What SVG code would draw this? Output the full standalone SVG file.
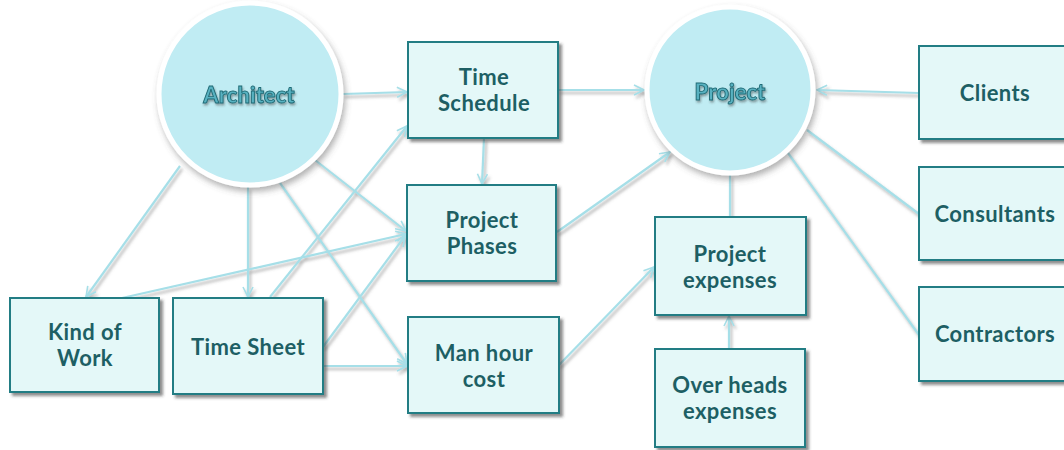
<svg xmlns="http://www.w3.org/2000/svg" width="1064" height="450" viewBox="0 0 1064 450">
<defs>
<filter id="shl" x="-20%" y="-20%" width="140%" height="140%">
<feDropShadow dx="2" dy="3" stdDeviation="1.6" flood-color="#6b6b6b" flood-opacity="0.5"/>
</filter>
<filter id="shb" x="-10%" y="-10%" width="125%" height="125%">
<feDropShadow dx="3" dy="3" stdDeviation="1.8" flood-color="#333" flood-opacity="0.55"/>
</filter>
<filter id="shc" x="-10%" y="-10%" width="125%" height="125%">
<feDropShadow dx="2" dy="4" stdDeviation="3" flood-color="#555" flood-opacity="0.45"/>
</filter>
<filter id="sht" x="-10%" y="-20%" width="120%" height="150%">
<feDropShadow dx="1" dy="2" stdDeviation="1" flood-color="#333" flood-opacity="0.45"/>
</filter>
<marker id="arr" viewBox="0 0 12 12" refX="11" refY="6" markerWidth="12" markerHeight="12" markerUnits="userSpaceOnUse" orient="auto">
<path d="M1,1 L11,6 L1,11" fill="none" stroke="#a6dfe8" stroke-width="1.6"/>
</marker>
</defs>
<style>
.c{fill:none;stroke:#a6dfe8;stroke-width:2.2}
.box{fill:#e4f8f8;stroke:#237d84;stroke-width:2}
.t{font-family:"Lato","Open Sans","DejaVu Sans",sans-serif;font-weight:bold;font-size:22px;letter-spacing:0.4px;fill:#1d5f64;text-anchor:middle}
.circ{fill:#c0ecf3;stroke:#ffffff;stroke-width:5}
.ct{font-family:"Lato","Open Sans","DejaVu Sans",sans-serif;font-weight:900;font-size:22px;fill:#58b2c1;stroke:#1f6a75;stroke-width:0.9;text-anchor:middle}
</style>
<rect width="1064" height="450" fill="#ffffff"/>
<g id="connectors" filter="url(#shl)">
<line class="c" x1="343" y1="94" x2="407" y2="92" marker-end="url(#arr)"/>
<line class="c" x1="270" y1="297" x2="407" y2="126" marker-end="url(#arr)"/>
<line class="c" x1="180" y1="166" x2="86" y2="297" marker-end="url(#arr)"/>
<line class="c" x1="248" y1="187" x2="248" y2="297" marker-end="url(#arr)"/>
<line class="c" x1="122" y1="298" x2="406" y2="234" marker-end="url(#arr)"/>
<line class="c" x1="315" y1="160" x2="406" y2="231" marker-end="url(#arr)"/>
<line class="c" x1="280" y1="183" x2="407" y2="364" marker-end="url(#arr)"/>
<line class="c" x1="323" y1="347" x2="405" y2="236" marker-end="url(#arr)"/>
<line class="c" x1="323" y1="366" x2="407" y2="366" marker-end="url(#arr)"/>
<line class="c" x1="558" y1="90" x2="644" y2="90" marker-end="url(#arr)"/>
<line class="c" x1="484" y1="138" x2="482" y2="184" marker-end="url(#arr)"/>
<line class="c" x1="557" y1="232" x2="670" y2="152" marker-end="url(#arr)"/>
<line class="c" x1="559" y1="365" x2="654" y2="267" marker-end="url(#arr)"/>
<line class="c" x1="730" y1="175" x2="730" y2="217"/>
<line class="c" x1="729" y1="356" x2="729" y2="316" marker-end="url(#arr)"/>
<line class="c" x1="919" y1="93" x2="817" y2="90" marker-end="url(#arr)"/>
<line class="c" x1="919" y1="214" x2="807" y2="130"/>
<line class="c" x1="919" y1="335" x2="788" y2="153"/>
</g>
<g id="architect">
<circle class="circ" cx="250" cy="94" r="91" filter="url(#shc)"/>
<text class="ct" x="249" y="103" filter="url(#sht)">Architect</text>
</g>
<g id="project">
<circle class="circ" cx="730" cy="90" r="83" filter="url(#shc)"/>
<text class="ct" x="730" y="100" filter="url(#sht)">Project</text>
</g>
<g id="time-schedule">
<rect class="box" x="408" y="42" width="150" height="96" filter="url(#shb)"/>
<text class="t" x="484" y="85">Time</text>
<text class="t" x="484" y="111">Schedule</text>
</g>
<g id="project-phases">
<rect class="box" x="407" y="185" width="149" height="96" filter="url(#shb)"/>
<text class="t" x="482" y="228">Project</text>
<text class="t" x="482" y="254">Phases</text>
</g>
<g id="kind-of-work">
<rect class="box" x="10" y="298" width="149" height="94" filter="url(#shb)"/>
<text class="t" x="85" y="340">Kind of</text>
<text class="t" x="85" y="366">Work</text>
</g>
<g id="time-sheet">
<rect class="box" x="173" y="298" width="150" height="96" filter="url(#shb)"/>
<text class="t" x="248" y="355">Time Sheet</text>
</g>
<g id="man-hour-cost">
<rect class="box" x="408" y="317" width="151" height="96" filter="url(#shb)"/>
<text class="t" x="484" y="361">Man hour</text>
<text class="t" x="484" y="387">cost</text>
</g>
<g id="project-expenses">
<rect class="box" x="655" y="217" width="151" height="98" filter="url(#shb)"/>
<text class="t" x="730" y="262">Project</text>
<text class="t" x="730" y="288">expenses</text>
</g>
<g id="over-heads-expenses">
<rect class="box" x="655" y="349" width="150" height="98" filter="url(#shb)"/>
<text class="t" x="730" y="393">Over heads</text>
<text class="t" x="730" y="419">expenses</text>
</g>
<g id="clients">
<rect class="box" x="919" y="46" width="152" height="93" filter="url(#shb)"/>
<text class="t" x="995" y="101">Clients</text>
</g>
<g id="consultants">
<rect class="box" x="919" y="167" width="152" height="93" filter="url(#shb)"/>
<text class="t" x="995" y="222">Consultants</text>
</g>
<g id="contractors">
<rect class="box" x="919" y="287" width="152" height="94" filter="url(#shb)"/>
<text class="t" x="995" y="342">Contractors</text>
</g>
</svg>
